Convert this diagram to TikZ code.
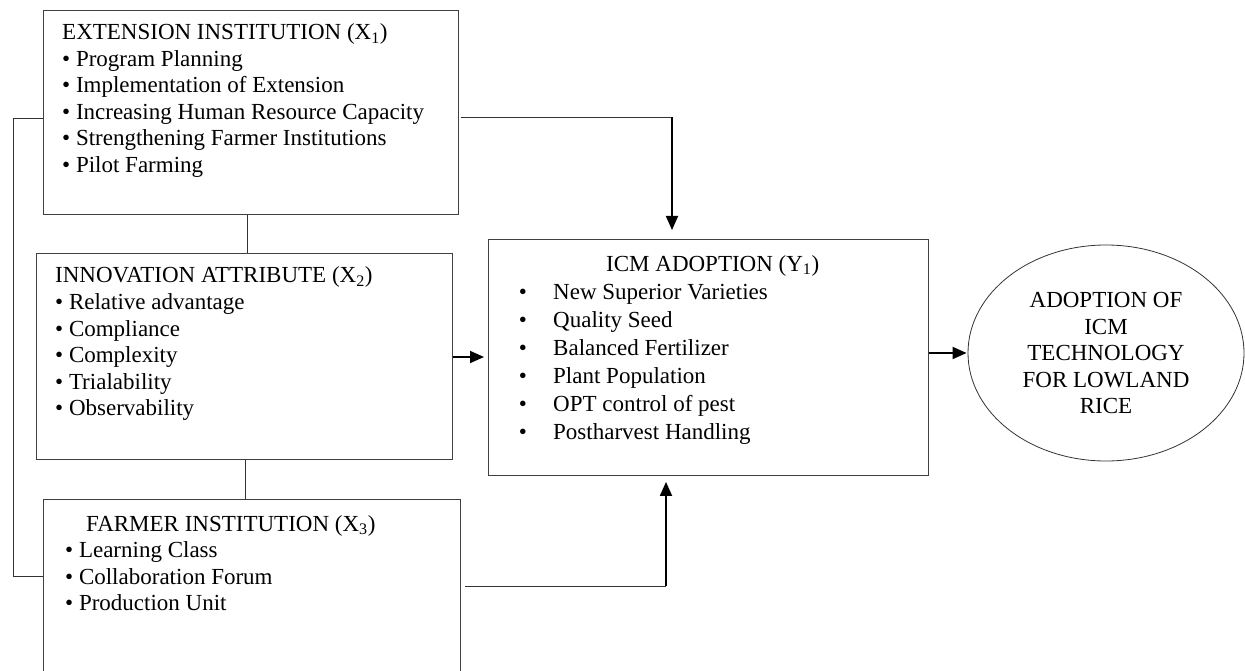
\documentclass[tikz,border=0pt]{standalone}
\usepackage{fontspec}
\setmainfont{Liberation Serif}
\usetikzlibrary{arrows.meta,shapes.geometric}
\begin{document}
\begin{tikzpicture}[x=1pt,y=-1pt,
  box/.style={draw=black!75, line width=0.9pt, inner sep=0pt, anchor=north west},
  txt/.style={anchor=base west, inner sep=0pt, font=\fontsize{23}{26.5}\selectfont},
  icmtxt/.style={anchor=base west, inner sep=0pt, font=\fontsize{23}{28}\selectfont},
  dot/.style={anchor=base, inner sep=0pt, font=\fontsize{23}{28}\selectfont},
  link/.style={draw=black!80, line width=0.9pt},
  arr/.style={draw=black, line width=1.8pt, -{Triangle[length=14pt,width=12pt]}}]
\useasboundingbox (0,0) rectangle (1245,671);
\clip (0,0) rectangle (1245,671);

% boxes
\node[box, minimum width=415pt, minimum height=204pt] (x1) at (43,10) {};
\node[box, minimum width=416pt, minimum height=206pt] (x2) at (36,253) {};
\node[box, minimum width=417pt, minimum height=176pt] (x3) at (43,499) {};
\node[box, minimum width=440pt, minimum height=236pt] (icm) at (488,239) {};
\node[ellipse, draw=black!80, line width=0.8pt, minimum width=276pt, minimum height=216pt,
      inner sep=0pt, align=center, font=\fontsize{23}{26.5}\selectfont] (ell) at (1106,353)
  {ADOPTION OF\\ICM\\TECHNOLOGY\\FOR LOWLAND\\RICE};

% X1 text
\node[txt] (t10) at (62,40)    {EXTENSION INSTITUTION (X\textsubscript{1})};
\node[txt] (t11) at (62,66.5)  {• Program Planning};
\node[txt] (t12) at (62,93)    {• Implementation of Extension};
\node[txt] (t13) at (62,119.5) {• Increasing Human Resource Capacity};
\node[txt] (t14) at (62,146)   {• Strengthening Farmer Institutions};
\node[txt] (t15) at (62,172.5) {• Pilot Farming};

% X2 text
\node[txt] (t20) at (55,283)   {INNOVATION ATTRIBUTE (X\textsubscript{2})};
\node[txt] (t21) at (55,309.5) {• Relative advantage};
\node[txt] (t22) at (55,336)   {• Compliance};
\node[txt] (t23) at (55,362.5) {• Complexity};
\node[txt] (t24) at (55,389)   {• Trialability};
\node[txt] (t25) at (55,415.5) {• Observability};

% X3 text
\node[txt] (t30) at (86,531)   {FARMER INSTITUTION (X\textsubscript{3})};
\node[txt] (t31) at (65,557.5) {• Learning Class};
\node[txt] (t32) at (65,584)   {• Collaboration Forum};
\node[txt] (t33) at (65,610.5) {• Production Unit};

% ICM text
\node[icmtxt] (y0) at (606,271) {ICM ADOPTION (Y\textsubscript{1})};
\foreach \i/\s [count=\k from 0] in {1/New Superior Varieties,2/Quality Seed,3/Balanced Fertilizer,4/Plant Population,5/OPT control of pest,6/Postharvest Handling}{
  \node[dot] (yb\i) at (523,{299+28*\k}) {\textbullet};
  \node[icmtxt] (yt\i) at (553,{299+28*\k}) {\s};
}

% helper coordinates
\coordinate (c1) at (247,0);
\coordinate (c2) at (245,0);
\coordinate (l1) at (13,118);
\coordinate (l2) at (13,576);
\coordinate (t1) at (672,117);
\coordinate (b1) at (666,586);
\coordinate (m) at (0,357);
\coordinate (e) at (0,353);

% plain links
\draw[link] (x1.south -| c1) -- (x2.north -| c1);
\draw[link] (x2.south -| c2) -- (x3.north -| c2);
\draw[link] (l1 -| x1.west) -- (l1) -- (l2) -- (l2 -| x3.west);

% arrows
\draw[link] ([xshift=2pt]x1.east |- t1) -- (t1);
\draw[arr, shorten >=9pt] (t1) -- (icm.north -| t1);
\draw[link] ([xshift=4pt]x3.east |- b1) -- (b1);
\draw[arr, shorten >=6pt] (b1) -- (icm.south -| b1);
\draw[arr, shorten >=4pt] (x2.east |- m) -- (icm.west |- m);
\draw[arr, shorten >=1pt] (icm.east |- e) -- (ell.west |- e);
\end{tikzpicture}
\end{document}
